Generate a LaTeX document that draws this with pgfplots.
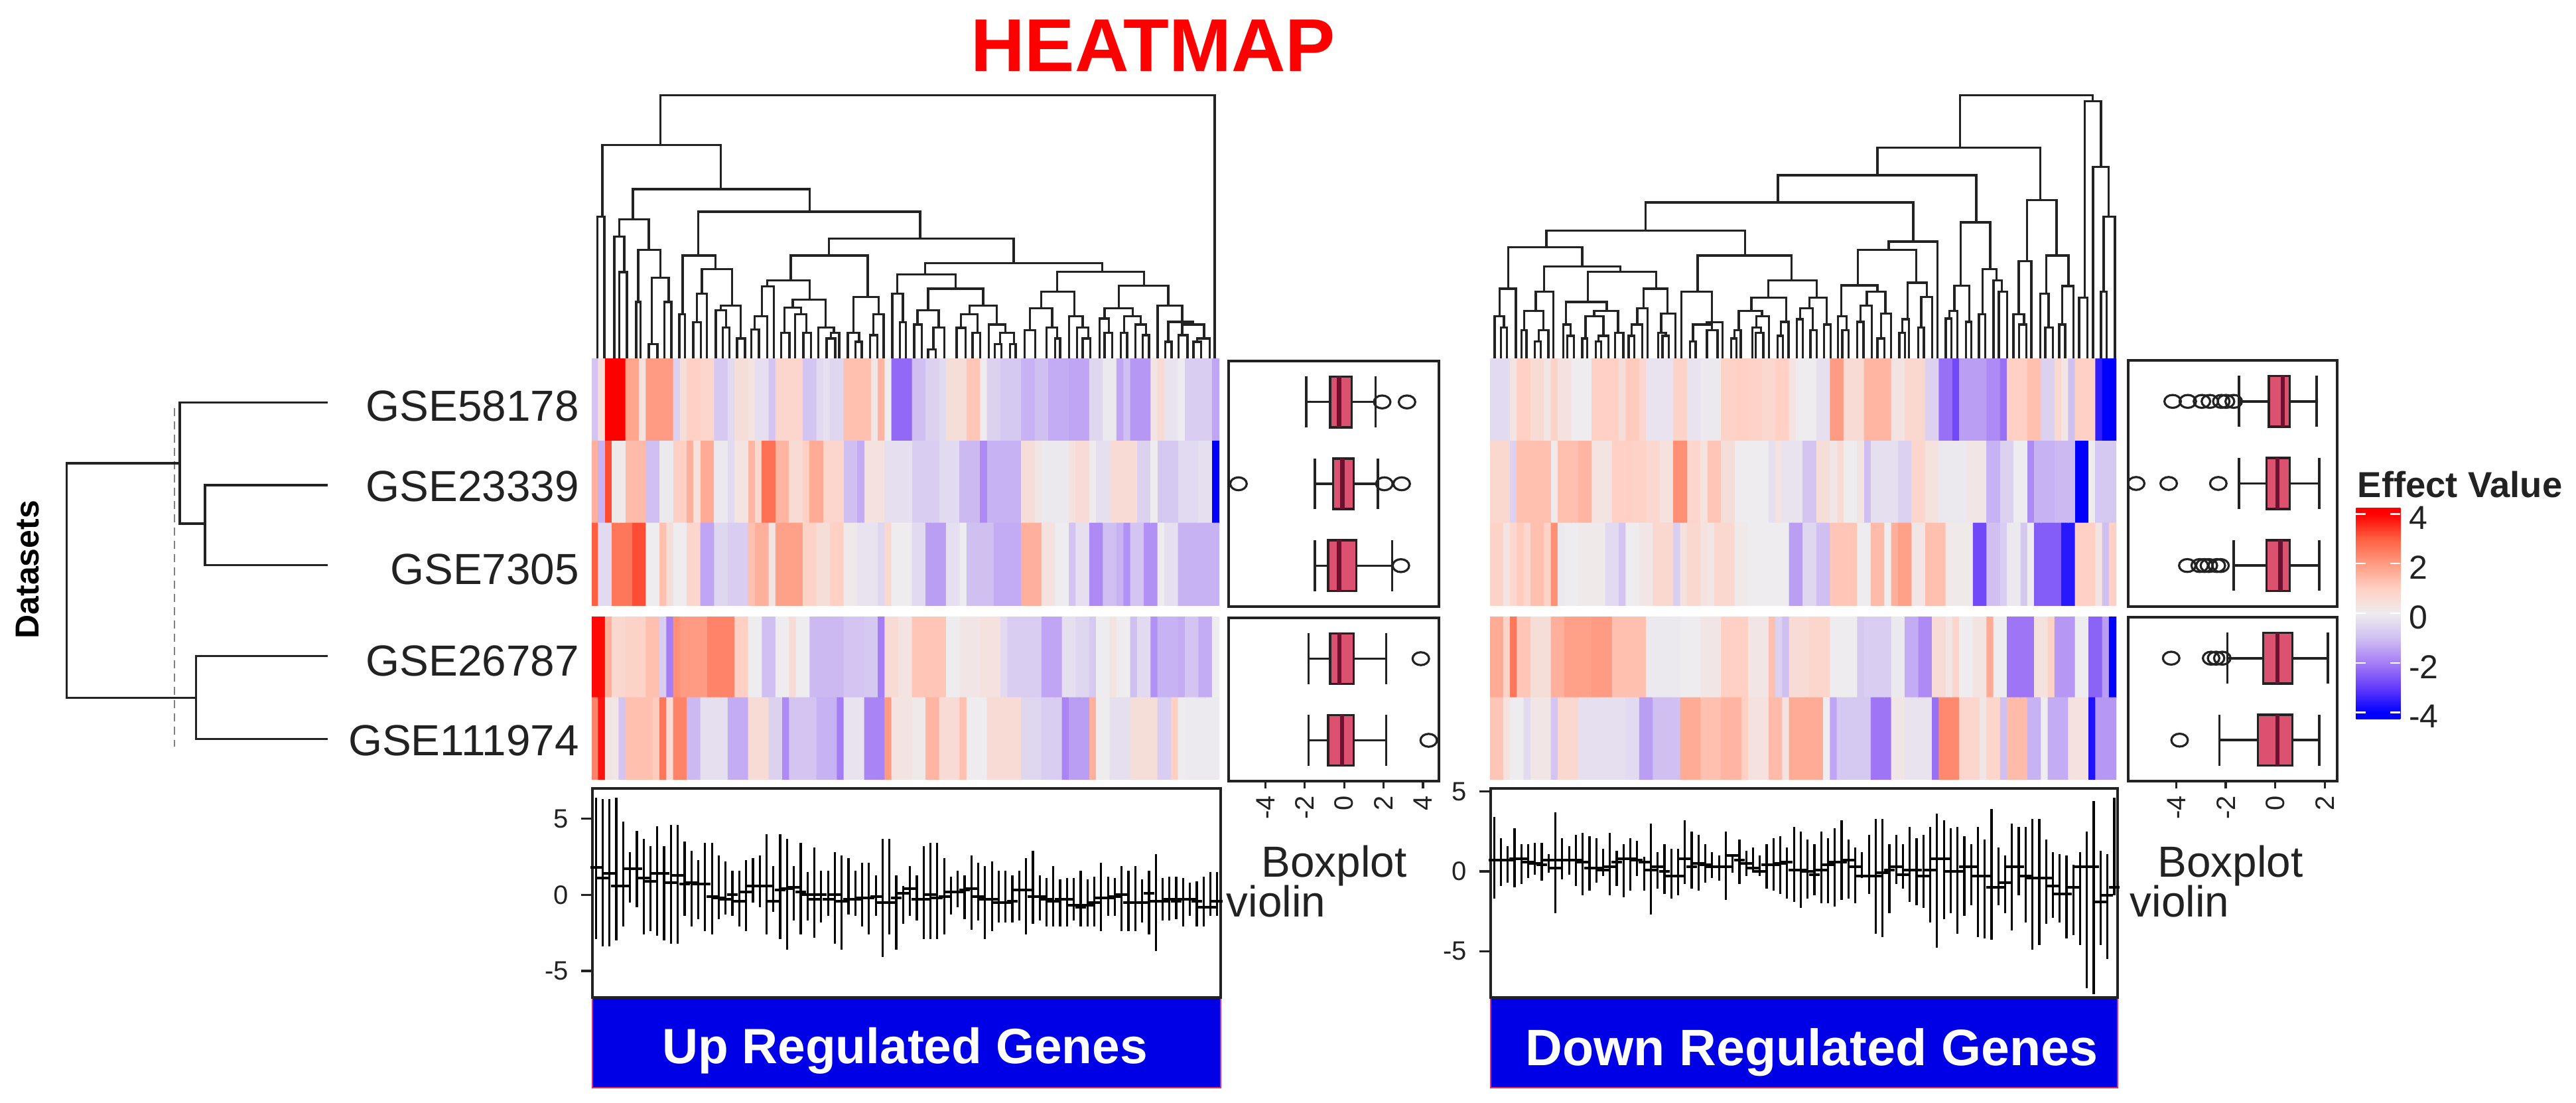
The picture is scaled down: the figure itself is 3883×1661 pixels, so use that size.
\documentclass[border=0pt]{standalone}
\usepackage{fontspec}
\setmainfont{Liberation Sans}
\usepackage{pgfplots}
\usepackage{pgfplotstable}
\pgfplotsset{compat=1.18}
\usepgfplotslibrary{statistics}

\definecolor{ink}{HTML}{222222}
\definecolor{boxfill}{HTML}{DC5070}
\definecolor{boxmed}{HTML}{6E1030}
\definecolor{barblue}{HTML}{0000E6}
\definecolor{barred}{HTML}{E03060}

\pgfplotsset{
  colormap={effect}{
    rgb255(0pt)=(0,0,255); rgb255(25pt)=(0,0,255); rgb255(125pt)=(100,60,250);
    rgb255(225pt)=(165,125,245); rgb255(325pt)=(208,192,242); rgb255(425pt)=(238,236,238);
    rgb255(525pt)=(255,208,195); rgb255(625pt)=(255,155,130); rgb255(725pt)=(255,95,65);
    rgb255(825pt)=(255,0,0); rgb255(850pt)=(255,0,0)
  },
  % place axis by the pixel box left, top, right, bottom of the reference
  box/.code n args={4}{
    \pgfmathsetlengthmacro\px{#1*0.25pt}
    \pgfmathsetlengthmacro\py{(1661-#4)*0.25pt}
    \pgfmathsetlengthmacro\pw{(#3-#1)*0.25pt}
    \pgfmathsetlengthmacro\ph{(#4-#2)*0.25pt}
    \pgfplotsset{at={(\px,\py)}, anchor=south west, scale only axis, width=\pw, height=\ph}
  },
  heat/.style={hide axis, xmin=-0.5, xmax=91.5, y dir=reverse, colormap name=effect,
    point meta min=-4.25, point meta max=4.25},
  heatcells/.style={matrix plot*, mesh/cols=92, point meta=explicit},
  table/heattab/.style={row sep=\\, header=false, x expr={mod(\coordindex,92)},
    y expr={floor(\coordindex/92)}, meta index=0},
  tree/.style={hide axis, y dir=reverse, ymin=0, ymax=1263, clip=false},
  den/.style={ink, line width=0.85pt, forget plot, no marks},
  bpaxis/.style={axis line style={ink, line width=1pt}, ytick=\empty, xtick=\empty,
    /pgf/number format/assume math mode=true,
    tick style={ink, line width=0.8pt}, major tick length=2.75pt, tick align=outside,
    xtick pos=bottom, xticklabel style={rotate=90, anchor=east, inner sep=0pt, xshift=2pt,
      font=\fontsize{10}{11}\selectfont, text=ink}, xticklabel shift=4.5pt,
    ymin=0.5},
  bp/.style={draw=ink, fill=boxfill, line width=0.9pt, mark=o, solid,
    mark options={draw=ink, fill=none, line width=0.8pt, xscale=1.15, yscale=0.9},
    mark size=2.7pt, boxplot/draw direction=x, boxplot/box extend=0.62,
    boxplot/whisker extend=0.62,
    boxplot/every median/.style={draw=boxmed, line width=1.6pt}},
  vio/.style={axis line style={ink, line width=1pt}, xtick=\empty, ytick={-5,0,5},
    xmin=0.5, xmax=92.5, clip=false,
    /pgf/number format/assume math mode=true,
    tick style={ink, line width=0.8pt}, major tick length=4.25pt, tick align=outside,
    ytick pos=left, yticklabel style={inner sep=0pt, font=\fontsize{10}{11}\selectfont, text=ink},
    yticklabel shift=4.5pt},
  vioplot/.style={only marks, mark=-, mark size=2.1pt, black,
    mark options={line width=1pt},
    error bars/.cd, y dir=both, y explicit, error mark=none,
    error bar style={black, line width=0.8pt}},
}
\newcommand{\U}[5]{\addplot[den] coordinates {(#1,#2)(#1,#5)(#3,#5)(#3,#4)};}
\newcommand{\LL}[3]{\addplot[den] coordinates {(#1,1263)(#1,#3)(#2,#3)(#2,1263)};}
\newcommand{\BP}[7]{\addplot[bp, boxplot prepared={draw position=#1, lower whisker=#2,
  lower quartile=#3, median=#4, upper quartile=#5, upper whisker=#6}] coordinates {#7};}
\newcommand{\lab}{\fontsize{16.4}{18}\selectfont}

% gene, upper end, lower end, median of each violin
\pgfplotstableread{
i h l m
1 6.4 -2.9 1.8
2 6.3 -3.4 1.1
3 6.3 -3.4 1.4
4 6.4 -3.0 0.6
5 4.8 -2.1 0.6
6 2.8 -0.5 1.7
7 4.2 -0.8 1.7
8 3.7 -2.6 1.1
9 3.2 -2.4 0.9
10 4.5 -2.7 1.4
11 3.2 -3.0 1.4
12 4.6 -3.2 0.8
13 4.6 -3.2 1.3
14 3.5 -1.4 0.7
15 2.9 -2.1 0.8
16 2.3 -1.6 0.7
17 3.4 -2.4 0.7
18 3.4 -2.6 -0.1
19 2.6 -1.6 -0.2
20 2.2 -1.3 -0.3
21 1.6 -1.4 0
22 1.6 -2.1 -0.4
23 2.3 -2.4 0.2
24 2.4 -0.5 0.6
25 2.6 -0.8 0.6
26 4.0 -2.6 0.6
27 1.9 -1.1 -0.4
28 4.0 -2.9 0.3
29 3.7 -3.6 0.4
30 1.9 -1.7 0.5
31 3.4 -2.6 0.2
32 1.5 -1.7 0
33 3.1 -2.8 -0.3
34 1.6 -1.8 0
35 1.6 -1.4 -0.3
36 2.8 -3.2 0
37 2.6 -3.6 -0.4
38 2.4 -1.3 -0.3
39 1.6 -1.4 -0.3
40 2.1 -2.1 -0.2
41 2.1 -2.6 -0.2
42 1.3 -1.4 -0.1
43 3.7 -4.1 -0.5
44 3.7 -2.6 -0.5
45 1.3 -3.6 -0.2
46 0.6 -1.9 0.1
47 1.9 -1.4 0.4
48 1.3 -1.7 -0.3
49 3.2 -2.9 -0.3
50 3.4 -2.9 0
51 3.4 -2.9 -0.2
52 2.4 -2.6 -0.1
53 1.2 -1.3 0.2
54 1.6 -0.8 0.2
55 1.3 -1.6 0.3
56 2.6 -2.3 0.4
57 2.1 -1.7 -0.1
58 1.9 -2.9 -0.3
59 2.2 -2.4 -0.3
60 1.6 -1.8 -0.5
61 1.6 -1.8 -0.5
62 1.3 -1.8 -0.4
63 1.6 -1.7 0.3
64 2.4 -2.6 0.3
65 2.9 -1.9 -0.1
66 1.3 -1.7 -0.1
67 1.1 -2.1 -0.3
68 1.9 -2.1 -0.4
69 1.0 -2.1 -0.3
70 1.1 -2.1 -0.3
71 1.1 -1.7 -0.7
72 1.6 -2.1 -0.8
73 1.0 -2.1 -0.7
74 1.2 -2.1 -0.5
75 2.1 -2.4 -0.2
76 1.2 -1.4 -0.2
77 1.1 -1.4 -0.1
78 1.9 -2.4 0
79 1.6 -2.4 -0.5
80 1.9 -2.4 -0.5
81 1.0 -1.8 -0.5
82 1.6 -2.6 0.1
83 2.7 -3.7 -0.4
84 1.1 -1.7 -0.4
85 1.2 -1.7 -0.3
86 1.2 -1.6 -0.4
87 1.1 -2.1 -0.3
88 0.8 -1.4 -0.3
89 0.9 -2.1 -0.4
90 1.2 -2.1 -0.8
91 1.5 -1.4 -0.8
92 1.5 -1.4 -0.4
}\vioup

\pgfplotstableread{
i h l m
1 3.4 -1.7 0.7
2 2.1 -0.9 0.7
3 1.6 -0.7 0.7
4 2.7 -1.0 0.8
5 1.7 -0.8 0.8
6 1.7 -0.4 0.6
7 1.8 -0.2 0.5
8 1.8 -0.6 0.4
9 1.1 -0.1 0.7
10 3.7 -2.6 0.2
11 2.1 -0.5 0.7
12 1.6 -0.2 0.7
13 2.3 -0.9 0.7
14 2.4 -1.5 0.6
15 2.2 -1.2 0.2
16 2.1 -0.7 0.2
17 1.4 -0.3 0.1
18 2.4 -1.5 0.3
19 1.3 -0.9 0.6
20 1.7 -1.6 0.8
21 2.1 -1.2 0.8
22 1.9 -0.3 0.7
23 0.9 -1.2 0.6
24 3.0 -2.7 0.1
25 1.2 -1.1 0.3
26 1.7 -1.4 0
27 1.4 -1.7 -0.3
28 1.4 -1.5 -0.3
29 3.2 -0.8 0.8
30 2.5 -1.1 0.3
31 2.3 -1.2 0.5
32 1.7 -0.7 0.4
33 1.2 -0.4 0.3
34 1.0 -0.6 0.3
35 2.5 -1.8 0.3
36 1.1 -0.1 1.0
37 2.0 -0.8 0.7
38 1.3 -0.3 0.5
39 1.5 -0.1 0.2
40 1.0 -0.3 0
41 1.7 -1.1 0.4
42 2.1 -1.2 0.4
43 2.2 -1.4 0.5
44 1.5 -1.7 0.6
45 2.8 -1.9 0.1
46 2.5 -2.3 0.1
47 2.0 -1.7 0
48 1.7 -1.5 -0.2
49 2.5 -2.0 0.1
50 2.1 -2.0 0.4
51 2.7 -2.2 0.6
52 3.2 -1.8 0.6
53 2.0 -1.7 0.7
54 1.5 -2.0 0.3
55 1.2 -0.4 -0.3
56 2.3 -1.4 -0.3
57 3.3 -3.9 -0.3
58 3.3 -4.1 -0.1
59 1.7 -2.6 0.1
60 2.3 -0.8 0.3
61 1.7 -1.1 -0.2
62 2.8 -1.9 0.1
63 2.1 -2.1 0.1
64 2.3 -2.3 -0.3
65 2.8 -3.2 0.1
66 3.6 -4.8 0.8
67 3.2 -3.0 0.8
68 2.7 -2.6 0
69 2.8 -3.9 0
70 2.2 -2.8 0.3
71 1.7 -2.1 0.3
72 2.8 -4.1 -0.3
73 2.0 -4.2 -0.3
74 3.9 -4.3 -1.0
75 1.5 -2.1 -1.0
76 1.0 -2.6 -0.7
77 3.0 -3.7 0.3
78 2.8 -1.5 0.3
79 2.8 -3.2 -0.3
80 3.3 -4.9 -0.4
81 3.3 -4.6 -0.4
82 2.0 -3.3 -0.4
83 1.2 -2.9 -0.9
84 1.1 -3.2 -1.4
85 1.0 -4.2 -1.4
86 0.4 -4.0 -1.0
87 1.2 -4.6 0.3
88 2.5 -7.3 0.3
89 4.4 -7.7 0.3
90 1.3 -4.6 -1.9
91 1.1 -5.5 -1.5
92 4.6 -1.5 -1.0
}\viodown

\begin{document}
\begin{tikzpicture}[x=0.25pt,y=0.25pt]
\path[use as bounding box] (0,0) rectangle (3883,1661);

% ---- title and side text
\node[font=\fontsize{28.2}{30}\bfseries\selectfont, text=red] at (1738,1592) {HEATMAP};
\fill[barblue, draw=barred, line width=0.6pt] (893,22) rectangle (1840,158);
\fill[barblue, draw=barred, line width=0.6pt] (2247,22) rectangle (3192,158);
\node[font=\fontsize{18.7}{20}\bfseries\selectfont, text=white] at (1364,78) {Up Regulated Genes};
\node[font=\fontsize{19.3}{21}\bfseries\selectfont, text=white] at (2731,75) {Down Regulated Genes};
\node[font=\lab, text=ink] at (2011,356) {Boxplot};
\node[font=\lab, text=ink] at (3362,356) {Boxplot};
\node[font=\lab, text=ink, anchor=west, inner sep=0pt] at (1848,303) {violin};
\node[font=\lab, text=ink, anchor=west, inner sep=0pt] at (3210,303) {violin};
\node[font=\fontsize{13.6}{15}\bfseries\selectfont, text=ink, anchor=west, inner sep=0pt] at (3553,931) {Effect Value};

% ---- dendrogram of the datasets
\begin{axis}[box={0}{520}{900}{1200}, hide axis, xmin=0, xmax=1568, ymin=0, ymax=1568, y dir=reverse, clip=false]
  \addplot[den, gray, densely dashed, line width=0.6pt] coordinates {(458,220)(458,1395)};
  \addplot[den] coordinates {(470,410)(175,410)(175,1225)(515,1225)};
  \addplot[den] coordinates {(860,200)(472,200)(472,620)(538,620)};
  \addplot[den] coordinates {(860,487)(538,487)(538,765)(860,765)};
  \addplot[den] coordinates {(860,1080)(515,1080)(515,1368)(860,1368)};
  \node[font=\lab, text=ink, anchor=east, inner sep=0pt] at (axis cs:1522,212) {GSE58178};
  \node[font=\lab, text=ink, anchor=east, inner sep=0pt] at (axis cs:1522,490) {GSE23339};
  \node[font=\lab, text=ink, anchor=east, inner sep=0pt] at (axis cs:1522,780) {GSE7305};
  \node[font=\lab, text=ink, anchor=east, inner sep=0pt] at (axis cs:1522,1097) {GSE26787};
  \node[font=\lab, text=ink, anchor=east, inner sep=0pt] at (axis cs:1522,1375) {GSE111974};
  \node[font=\fontsize{12.5}{14}\bfseries\selectfont, text=black, rotate=90] at (axis cs:72,780) {Datasets};
\end{axis}

% ---- dendrogram of the up regulated genes
\begin{axis}[box={892}{120}{1838}{541}, tree, xmin=50, xmax=1533]
  \U{212}{295}{1522}{1263}{70}
  \U{75}{620}{355}{495}{295}
  \LL{63}{80}{620}
  \U{147}{632}{565}{597}{495}
  \U{115}{710}{185}{770}{632}
  \U{103}{1263}{127}{870}{710}
  \LL{115}{133}{870}
  \U{160}{1005}{212}{895}{770}
  \LL{155}{165}{1005}
  \U{192}{1195}{232}{1005}{895}
  \LL{185}{205}{1195}
  \LL{222}{238}{1005}
  \U{302}{795}{826}{718}{597}
  \U{265}{1060}{342}{857}{795}
  \LL{257}{270}{1060}
  \U{310}{968}{382}{1022}{857}
  \U{298}{1097}{322}{1263}{968}
  \LL{290}{308}{1097}
  \U{355}{1043}{402}{1170}{1022}
  \U{343}{1263}{367}{1120}{1043}
  \LL{360}{375}{1120}
  \LL{393}{412}{1170}
  \U{610}{795}{1047}{830}{718}
  \U{520}{907}{702}{983}{795}
  \U{465}{935}{565}{995}{907}
  \U{452}{1070}{480}{1263}{935}
  \U{435}{1130}{465}{1263}{1070}
  \LL{427}{445}{1130}
  \U{525}{1030}{603}{1120}{995}
  \U{505}{1145}{545}{1060}{1030}
  \LL{498}{517}{1145}
  \U{530}{1263}{557}{1145}{1060}
  \LL{550}{568}{1145}
  \U{585}{1263}{622}{1145}{1120}
  \U{615}{1170}{635}{1263}{1145}
  \LL{605}{625}{1170}
  \U{668}{1145}{728}{1060}{983}
  \U{655}{1263}{682}{1185}{1145}
  \LL{673}{688}{1185}
  \U{715}{1155}{740}{1263}{1060}
  \LL{708}{725}{1155}
  \U{838}{880}{1256}{868}{830}
  \U{772}{968}{910}{945}{880}
  \U{760}{1263}{785}{1097}{968}
  \LL{778}{792}{1097}
  \U{845}{1043}{975}{1022}{945}
  \U{820}{1107}{870}{1120}{1043}
  \LL{812}{830}{1107}
  \U{857}{1220}{883}{1263}{1120}
  \LL{845}{863}{1220}
  \U{943}{1060}{1007}{1107}{1022}
  \U{922}{1122}{962}{1145}{1060}
  \LL{912}{933}{1122}
  \LL{950}{968}{1145}
  \U{988}{1263}{1027}{1145}{1107}
  \U{1015}{1195}{1048}{1195}{1145}
  \LL{1002}{1018}{1195}
  \LL{1038}{1052}{1195}
  \U{1150}{958}{1355}{932}{868}
  \U{1112}{1033}{1190}{1070}{958}
  \U{1085}{1133}{1138}{1120}{1033}
  \LL{1073}{1098}{1133}
  \U{1125}{1263}{1150}{1170}{1120}
  \LL{1145}{1157}{1170}
  \U{1178}{1263}{1210}{1120}{1070}
  \U{1197}{1263}{1223}{1170}{1120}
  \LL{1210}{1228}{1170}
  \U{1295}{1033}{1412}{1022}{932}
  \U{1262}{1080}{1328}{1070}{1033}
  \U{1250}{1263}{1272}{1145}{1080}
  \LL{1262}{1280}{1145}
  \U{1308}{1145}{1347}{1107}{1070}
  \LL{1300}{1315}{1145}
  \U{1335}{1263}{1360}{1155}{1107}
  \LL{1352}{1367}{1155}
  \U{1387}{1263}{1445}{1095}{1022}
  \U{1412}{1185}{1470}{1107}{1095}
  \LL{1405}{1420}{1185}
  \U{1445}{1155}{1497}{1170}{1107}
  \LL{1437}{1458}{1155}
  \U{1480}{1185}{1510}{1263}{1170}
  \LL{1472}{1490}{1185}
\end{axis}

% ---- dendrogram of the down regulated genes
\begin{axis}[box={2246}{120}{3190}{541}, tree, xmin=72, xmax=1553]
  \U{1183}{307}{1497}{97}{70}
  \U{1478}{985}{1517}{395}{97}
  \LL{1465}{1485}{985}
  \U{1498}{1263}{1535}{620}{395}
  \U{1523}{958}{1550}{1263}{620}
  \LL{1517}{1530}{958}
  \U{988}{432}{1373}{545}{307}
  \U{1342}{820}{1412}{795}{545}
  \U{1322}{1060}{1352}{1263}{820}
  \U{1310}{1263}{1335}{1107}{1060}
  \LL{1323}{1340}{1107}
  \U{1387}{968}{1440}{933}{795}
  \U{1373}{1263}{1393}{1120}{968}
  \LL{1385}{1403}{1120}
  \U{1425}{1107}{1452}{1263}{933}
  \LL{1418}{1432}{1107}
  \U{753}{555}{1222}{645}{432}
  \U{1185}{932}{1255}{857}{645}
  \U{1170}{1045}{1205}{1095}{932}
  \U{1158}{1080}{1177}{1263}{1045}
  \LL{1150}{1163}{1080}
  \LL{1198}{1210}{1095}
  \U{1237}{1060}{1270}{908}{857}
  \LL{1228}{1243}{1060}
  \U{1263}{1263}{1282}{958}{908}
  \LL{1275}{1295}{958}
  \U{440}{683}{1073}{732}{555}
  \U{1015}{770}{1130}{1263}{732}
  \U{942}{930}{1080}{918}{770}
  \U{903}{1070}{988}{958}{930}
  \U{895}{1263}{915}{1133}{1070}
  \LL{905}{920}{1133}
  \U{963}{1022}{1007}{1058}{958}
  \U{948}{1095}{975}{1263}{1022}
  \LL{940}{955}{1095}
  \U{997}{1170}{1020}{1263}{1058}
  \LL{988}{1005}{1170}
  \U{1060}{1083}{1105}{983}{918}
  \U{1047}{1145}{1063}{1263}{1083}
  \LL{1040}{1053}{1145}
  \U{1092}{1120}{1118}{1263}{983}
  \LL{1085}{1098}{1120}
  \U{205}{758}{675}{795}{683}
  \U{115}{945}{290}{845}{758}
  \U{95}{1070}{133}{1263}{945}
  \U{83}{1263}{105}{1120}{1070}
  \LL{98}{112}{1120}
  \U{200}{958}{380}{868}{845}
  \U{180}{1045}{222}{1263}{958}
  \U{153}{1133}{198}{1133}{1045}
  \LL{146}{158}{1133}
  \U{187}{1183}{210}{1263}{1133}
  \LL{178}{192}{1183}
  \U{303}{1005}{465}{945}{868}
  \U{252}{1107}{348}{1045}{1005}
  \U{245}{1263}{263}{1158}{1107}
  \LL{255}{270}{1158}
  \U{318}{1070}{375}{1145}{1045}
  \U{298}{1170}{340}{1158}{1070}
  \LL{290}{302}{1170}
  \U{328}{1183}{352}{1263}{1158}
  \LL{322}{335}{1183}
  \LL{368}{387}{1145}
  \U{435}{1033}{492}{1058}{945}
  \U{420}{1107}{445}{1263}{1033}
  \U{407}{1158}{432}{1263}{1107}
  \LL{400}{413}{1158}
  \U{477}{1145}{510}{1263}{1058}
  \U{470}{1263}{488}{1158}{1145}
  \LL{480}{495}{1158}
  \U{563}{958}{785}{908}{795}
  \U{525}{1263}{597}{1097}{958}
  \U{585}{1107}{622}{1263}{1097}
  \U{552}{1183}{597}{1133}{1107}
  \LL{545}{558}{1183}
  \LL{585}{610}{1133}
  \U{730}{985}{845}{985}{908}
  \U{690}{1045}{772}{1095}{985}
  \U{660}{1133}{715}{1070}{1045}
  \U{650}{1170}{665}{1263}{1133}
  \LL{642}{655}{1170}
  \U{702}{1120}{732}{1263}{1070}
  \U{692}{1263}{713}{1145}{1120}
  \LL{700}{718}{1145}
  \U{760}{1158}{778}{1263}{1095}
  \LL{752}{765}{1158}
  \U{827}{1033}{868}{1107}{985}
  \U{805}{1083}{835}{1133}{1033}
  \LL{798}{812}{1083}
  \LL{830}{845}{1133}
  \LL{862}{878}{1107}
\end{axis}

% ---- heat maps, up regulated
\begin{axis}[box={892}{541}{1838}{912}, heat, ymin=-0.5, ymax=2.5]
\addplot[heatcells] table[heattab] {
-0.9\\0.5\\4\\4\\4\\1.8\\1.8\\0.4\\2\\2\\2\\2\\-0.6\\0.5\\1\\1\\0.8\\0.8\\-0.8\\-0.8\\-0.4\\0.5\\0.5\\0.3\\-0.3\\-0.3\\-0.9\\0.8\\0.8\\0.8\\0.8\\-0.9\\-0.9\\-0.4\\-0.3\\-0.5\\-0.5\\1.3\\1.3\\1.3\\1.3\\0.2\\1.5\\0\\-2.3\\-2.3\\-2.3\\-1\\-1\\-0.6\\-0.6\\-0.4\\0.5\\0.5\\0.5\\1.2\\1.2\\0\\-0.6\\-0.6\\-0.8\\-0.8\\-0.8\\-1.2\\-1.2\\-1\\-1\\-1.3\\-1.3\\-1.3\\-1.4\\-1.4\\-1.4\\-0.5\\-0.5\\-0.1\\-0.1\\-1.4\\-1\\-1.6\\-1.6\\-1.6\\0.3\\0.6\\-0.2\\-0.2\\0\\-0.7\\-0.7\\-0.7\\-0.7\\-1.4\\
1.6\\-1.2\\3.2\\0.1\\0.1\\1.4\\1.4\\1.4\\-1\\-1\\-0.1\\-0.1\\1\\1\\1.6\\0.4\\1.7\\1.7\\-0.1\\-0.1\\-0.4\\0.3\\0.3\\1.5\\0.7\\2.7\\2.7\\1.5\\1.5\\0.6\\0.6\\1\\1.7\\1.7\\0.8\\0.8\\0.8\\-1\\-1\\-1.3\\0.4\\0.4\\0.4\\-0.3\\-0.3\\-0.3\\-0.3\\-0.7\\-0.7\\-0.7\\-0.7\\-0.4\\-0.4\\-0.4\\-1.1\\-1.1\\-1.1\\-1.8\\-1.2\\-1.2\\-1.2\\-1.2\\-1.2\\0.5\\0.5\\0.2\\-0.1\\-0.1\\-0.1\\-0.1\\0.4\\0.6\\0.6\\0\\-0.3\\-0.3\\0.6\\0.6\\0.6\\0.6\\-0.6\\-0.6\\0\\-0.8\\-0.8\\-0.8\\-0.4\\-0.4\\-0.4\\-0.3\\-0.3\\-4\\
3\\-0.4\\-0.4\\2.6\\2.6\\2.6\\3.2\\3.2\\0\\0\\1.3\\0.5\\0\\0\\0.8\\0.8\\-1.4\\-1.4\\-0.5\\-0.5\\-0.7\\-0.7\\-0.7\\1.3\\1.6\\1.6\\0.3\\1.9\\1.9\\1.9\\1.9\\0.9\\0.9\\0.5\\0.5\\1\\1\\0.1\\0.1\\-0.2\\-0.2\\-0.2\\-0.5\\0.7\\0\\0\\0\\-0.4\\-0.4\\-1.5\\-1.5\\-1.5\\-0.3\\-0.3\\0\\-1\\-1\\-1\\-1\\-1.3\\-1.3\\-1.3\\-1.3\\1.6\\1.6\\1.6\\0.4\\0.4\\0\\0\\-0.9\\-0.3\\-0.3\\-1.8\\-1.8\\-1\\-1\\-1.2\\-1.7\\-0.9\\-0.9\\-1.7\\-1.7\\0\\-0.3\\-0.3\\-1.2\\-1.2\\-1.2\\-1.2\\-1.2\\-1.2\\
};
\end{axis}
\begin{axis}[box={892}{929}{1838}{1174}, heat, ymin=-0.5, ymax=1.5]
\addplot[heatcells] table[heattab] {
3.9\\3.9\\1.6\\0.7\\0.7\\0.9\\0.9\\0.9\\1.3\\1.3\\-0.7\\-2\\2.2\\2\\2\\2\\2\\2.4\\2.4\\2.4\\2.4\\1\\1\\0\\0\\-1\\-1\\0\\0\\0.6\\0\\0\\-1.1\\-1.1\\-1.1\\-1.1\\-1.1\\-0.9\\-0.9\\-0.9\\-0.8\\-0.8\\-2\\0.6\\0.6\\0.3\\0.3\\1.2\\1.2\\1.2\\1.2\\1.2\\0\\0\\0.2\\0.2\\0.2\\0.4\\0.4\\0.4\\-0.4\\-0.7\\-0.7\\-0.7\\-0.7\\-0.7\\-1.4\\-1.4\\-1.4\\-0.3\\-0.3\\-0.5\\-0.5\\-0.8\\0\\0\\0.3\\0\\0\\-1\\-0.4\\-0.4\\-1.7\\-1.2\\-1.2\\-1.2\\-1.3\\-0.9\\-0.9\\-1.3\\-1.3\\0\\
2.4\\3.8\\0.3\\0.2\\-0.9\\1.3\\1.3\\1.3\\1.3\\1.1\\2.6\\0.6\\2.4\\2.4\\-1.1\\-1.1\\-0.3\\-0.3\\-0.3\\-0.3\\-1.3\\-1.3\\-1.3\\0.6\\0.6\\0.6\\-0.6\\-0.6\\-1.8\\-0.9\\-0.9\\-0.9\\-0.9\\-1.2\\-1.2\\-1.2\\-2\\-0.2\\-0.2\\-0.2\\-1.9\\-1.9\\-1.9\\2\\0.3\\0.3\\0.3\\0.1\\0.1\\1.5\\1.5\\0.6\\0.6\\0.6\\1.3\\0\\0\\0\\0.6\\0.6\\0.6\\0.6\\0.6\\-0.5\\-0.5\\-0.5\\-0.7\\-0.7\\-0.7\\-1.9\\-1.5\\-1.5\\-1.5\\1.6\\0\\0\\-0.3\\-0.3\\-0.3\\0.5\\0.5\\0.5\\0.5\\-0.7\\-0.7\\1\\0\\-0.05\\-0.05\\-0.05\\-0.05\\-0.05\\
};
\end{axis}

% ---- heat maps, down regulated
\begin{axis}[box={2246}{541}{3190}{912}, heat, ymin=-0.5, ymax=2.5]
\addplot[heatcells] table[heattab] {
-0.4\\-0.4\\-0.4\\0.3\\1\\1\\0.6\\0.6\\0.2\\0.9\\0.4\\0.4\\0\\0\\0\\1\\1\\1\\1\\0.5\\1.1\\1.1\\0.7\\-0.2\\-0.2\\-0.2\\-0.2\\0.9\\0.9\\-0.2\\-0.2\\-0.1\\-0.1\\-0.1\\0.9\\0.9\\1\\1\\0.9\\0.9\\0.7\\0.7\\1\\1\\0.3\\0\\0\\0\\-0.3\\-0.3\\2\\2\\0.6\\0.6\\0.6\\1.5\\1.5\\1.5\\1.5\\0.3\\0.3\\0.7\\0.7\\0.7\\-0.6\\-0.6\\-2.2\\-2.2\\-2.8\\-1.5\\-1.5\\-1.5\\-1.5\\-1.8\\-1.8\\-2.2\\1\\1\\1\\1.3\\1.3\\-0.6\\-0.6\\0.7\\0.2\\-1\\1\\1\\1\\-3.5\\-4\\-4\\
0.7\\0.7\\0.7\\-0.6\\1.3\\1.3\\1.3\\1.3\\1.3\\0.1\\1.3\\1.3\\1.3\\1.5\\1.5\\0.3\\0.3\\0.3\\1\\1\\1\\0.9\\0.9\\0.7\\0.7\\0.4\\0.4\\2.2\\2.2\\0.8\\0.8\\0.4\\1.2\\1.2\\0.5\\0.5\\0\\0\\0\\0\\0\\-0.3\\0.4\\-0.2\\-0.2\\-0.2\\-0.9\\-0.9\\0.5\\0.5\\0.2\\0.6\\0\\0\\0.3\\-1\\-0.3\\-0.3\\-0.3\\-0.3\\-0.6\\-0.6\\0.8\\0.8\\0.4\\0.4\\-0.1\\-0.1\\-0.1\\-0.1\\0.2\\0.2\\0.2\\-1.2\\-1.2\\-0.6\\-0.6\\0\\0\\-1.8\\-1.2\\-1.2\\-1.2\\-1.1\\-1.1\\-1.1\\-4\\-4\\0\\-0.8\\-0.8\\-0.8\\
0.9\\0.9\\0.3\\0.7\\1.1\\0.7\\1.3\\1.3\\0.9\\2.2\\-0.1\\0\\0\\0.1\\0.1\\0.1\\0.1\\-0.4\\-0.4\\-0.9\\0\\0\\0.2\\0.2\\0.7\\0.7\\0.7\\-0.7\\0.4\\0.7\\0.7\\0.4\\0.2\\0.7\\0.7\\0.7\\0.1\\0.1\\0\\0\\0\\0\\0\\0\\-1.5\\-1.5\\-0.5\\-0.5\\-1\\-1\\1.2\\1.2\\1.2\\1.2\\0\\0\\1.4\\1.4\\0\\1.6\\1.9\\1.9\\0.2\\0.2\\1.3\\1.3\\1.3\\0.1\\0.1\\0.1\\0.1\\-2.8\\-2.8\\-1\\-1\\-0.7\\-0.1\\-0.1\\-0.8\\0\\-2.5\\-2.5\\-2.5\\-2.5\\-3.6\\-3.6\\1\\1\\1\\0.3\\-1\\1\\
};
\end{axis}
\begin{axis}[box={2246}{929}{3190}{1174}, heat, ymin=-0.5, ymax=1.5]
\addplot[heatcells] table[heattab] {
1.7\\1.7\\0.9\\2.6\\1.2\\1.2\\0.5\\0.5\\0.5\\1.6\\1.6\\1.9\\1.9\\1.9\\1.9\\2\\2\\2\\1.3\\1.3\\1.3\\1.3\\1.3\\-0.1\\-0.1\\-0.1\\-0.1\\-0.1\\0\\0\\0\\0.2\\0.2\\0.2\\1\\1\\1\\1\\0.2\\0.2\\0.2\\1.3\\-0.6\\-1\\0.6\\0.6\\0.6\\0.8\\0.8\\0.8\\0\\0\\0\\0\\-0.8\\-0.7\\-0.7\\-0.7\\-0.7\\-0.1\\-0.1\\-1.3\\-1.3\\-1.8\\-1.8\\0.6\\0.6\\0.2\\0.8\\0\\0\\0.3\\0.3\\1.7\\0\\0\\-2.1\\-2.1\\-2.1\\-2.1\\0.4\\0.4\\0.9\\-1.6\\-1.6\\-1.6\\0\\0\\-2.4\\-2.4\\-1.5\\-4\\
1.2\\1.2\\0.4\\0\\0\\-0.4\\0.2\\0.2\\0.2\\-0.9\\0.7\\0.7\\0.7\\-0.3\\-0.3\\-0.3\\-0.3\\-0.3\\-0.3\\-0.3\\-0.4\\-0.4\\-1.5\\-1.5\\-1\\-1\\-1\\-1\\1.7\\1.7\\1.7\\1.3\\1.3\\1.3\\1.5\\1.5\\1.5\\1\\0.4\\0.4\\0.4\\1.4\\1.4\\0.4\\1.7\\1.7\\1.7\\1.7\\1.7\\0\\-1.4\\-0.8\\-0.8\\-0.8\\-0.8\\-0.8\\-2.1\\-2.1\\-2.1\\0.2\\0.2\\-0.2\\-0.2\\-0.2\\-0.2\\-2.2\\2.3\\2.3\\2.3\\0.8\\0.8\\0.8\\0.2\\0.8\\0.8\\-1\\1.4\\1.4\\1.4\\-1.2\\-1.2\\0\\-1.3\\-1.3\\-1.3\\0.4\\0.4\\0.4\\-3.7\\-1.6\\-1.6\\-1.6\\
};
\end{axis}

% ---- box plots, up regulated
\begin{axis}[box={1852}{544}{2169}{914}, bpaxis, xmin=-5.86, xmax=4.81, ymax=3.5]
  \BP{3}{-1.92}{-0.71}{-0.26}{0.38}{1.59}{(0,1.93)(0,3.19)}
  \BP{2}{-1.49}{-0.56}{-0.09}{0.49}{1.71}{(0,-5.36)(0,2.04)(0,2.92)}
  \BP{1}{-1.49}{-0.82}{-0.26}{0.62}{2.44}{(0,2.88)}
\end{axis}
\begin{axis}[box={1852}{931}{2169}{1177}, bpaxis, xmin=-5.86, xmax=4.81, ymax=2.5, xtick={-4,-2,0,2,4}]
  \BP{2}{-1.80}{-0.71}{-0.24}{0.49}{2.13}{(0,3.89)}
  \BP{1}{-1.80}{-0.82}{-0.11}{0.49}{2.13}{(0,4.29)}
\end{axis}

% ---- box plots, down regulated
\begin{axis}[box={3208}{543}{3523}{914}, bpaxis, xmin=-5.93, xmax=2.49, ymax=3.5]
  \BP{3}{-1.46}{-0.26}{0.29}{0.58}{1.66}{(0,-4.14)(0,-3.53)(0,-2.96)(0,-2.64)(0,-2.18)(0,-1.99)(0,-1.68)}
  \BP{2}{-1.46}{-0.36}{0.08}{0.58}{1.76}{(0,-5.61)(0,-4.30)(0,-2.30)}
  \BP{1}{-1.68}{-0.36}{0.20}{0.58}{1.76}{(0,-3.55)(0,-3.05)(0,-2.86)(0,-2.68)(0,-2.36)(0,-2.21)}
\end{axis}
\begin{axis}[box={3208}{930}{3523}{1177}, bpaxis, xmin=-5.93, xmax=2.49, ymax=2.5, xtick={-4,-2,0,2}]
  \BP{2}{-1.93}{-0.49}{0.08}{0.68}{2.11}{(0,-4.2)(0,-2.59)(0,-2.39)(0,-2.14)}
  \BP{1}{-2.26}{-0.71}{0.08}{0.68}{1.76}{(0,-3.86)}
\end{axis}

% ---- violins
\begin{axis}[box={893}{1188}{1840}{1503}, vio, ymin=-6.75, ymax=7]
  \addplot[vioplot] table[x=i, y=m, y error plus expr=\thisrow{h}-\thisrow{m}, y error minus expr=\thisrow{m}-\thisrow{l}] {\vioup};
\end{axis}
\begin{axis}[box={2247}{1188}{3192}{1503}, vio, ymin=-7.9, ymax=5.2]
  \addplot[vioplot] table[x=i, y=m, y error plus expr=\thisrow{h}-\thisrow{m}, y error minus expr=\thisrow{m}-\thisrow{l}] {\viodown};
\end{axis}

% ---- colour key
\pgfplotscolorbardrawstandalone[colormap name=effect, point meta min=-4.25, point meta max=4.25,
  colorbar/width=16.75pt,
  colorbar style={at={(879.3pt,144.5pt)}, anchor=south west, height=79.5pt,
    ytick={-4,-2,0,2,4}, ytick pos=both, yticklabel pos=right, tick align=inside,
    tick style={white, line width=0.6pt}, major tick length=3.75pt, axis line style={draw=none},
    /pgf/number format/assume math mode=true,
    yticklabel style={inner sep=0pt, yshift=-1.5pt, font=\fontsize{12.5}{13}\selectfont, text=ink}, yticklabel shift=3pt}]
\end{tikzpicture}
\end{document}
